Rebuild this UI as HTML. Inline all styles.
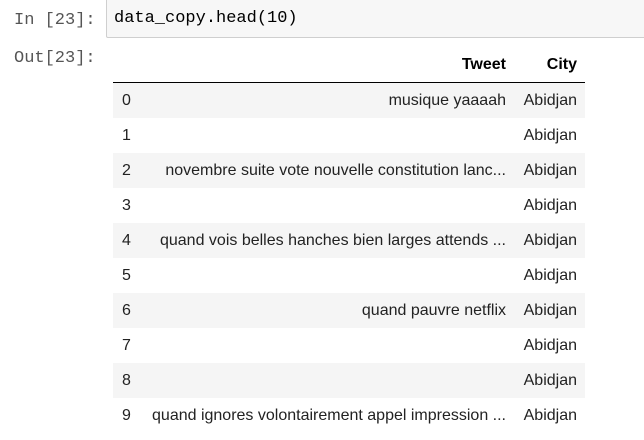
<!DOCTYPE html>
<html><head><style>
body{margin:0;width:644px;height:440px;background:#fff;position:relative;overflow:hidden;font-family:"Liberation Sans",Arial,sans-serif;}
.p{position:absolute;font-family:"Liberation Mono","DejaVu Sans Mono",monospace;font-size:17px;color:#555;}
.box{position:absolute;left:106px;top:0;width:560px;height:37px;background:#f7f7f7;border:1px solid #cfcfcf;border-top:none;border-radius:0 0 0 2px;}
.code{position:absolute;left:114px;top:9px;font-family:"Liberation Mono","DejaVu Sans Mono",monospace;font-size:17px;color:#000;}
.row{position:absolute;left:113px;width:472px;height:35px;font-size:16px;color:#222;}
.row.s{background:#f5f5f5;}
.row span{position:absolute;top:9px;}
.i{left:9px;}
.t{right:79px;}
.c{right:8px;}
.h{position:absolute;font-weight:bold;font-size:16px;top:56px;}
.line{position:absolute;left:113px;top:82px;width:472px;height:1px;background:#000;}
</style></head><body>
<div class="p" style="left:14px;top:11px">In [23]:</div>
<div class="box"></div>
<div class="code">data_copy.head(10)</div>
<div class="p" style="left:14px;top:49px">Out[23]:</div>
<div class="h" style="right:138px">Tweet</div>
<div class="h" style="right:67px">City</div>
<div class="line"></div>
<div class="row s" style="top:83px"><span class="i">0</span><span class="t">musique yaaaah</span><span class="c">Abidjan</span></div>
<div class="row" style="top:118px"><span class="i">1</span><span class="c">Abidjan</span></div>
<div class="row s" style="top:153px"><span class="i">2</span><span class="t">novembre suite vote nouvelle constitution lanc...</span><span class="c">Abidjan</span></div>
<div class="row" style="top:188px"><span class="i">3</span><span class="c">Abidjan</span></div>
<div class="row s" style="top:223px"><span class="i">4</span><span class="t">quand vois belles hanches bien larges attends ...</span><span class="c">Abidjan</span></div>
<div class="row" style="top:258px"><span class="i">5</span><span class="c">Abidjan</span></div>
<div class="row s" style="top:293px"><span class="i">6</span><span class="t">quand pauvre netflix</span><span class="c">Abidjan</span></div>
<div class="row" style="top:328px"><span class="i">7</span><span class="c">Abidjan</span></div>
<div class="row s" style="top:363px"><span class="i">8</span><span class="c">Abidjan</span></div>
<div class="row" style="top:398px"><span class="i">9</span><span class="t">quand ignores volontairement appel impression ...</span><span class="c">Abidjan</span></div>
</body></html>
